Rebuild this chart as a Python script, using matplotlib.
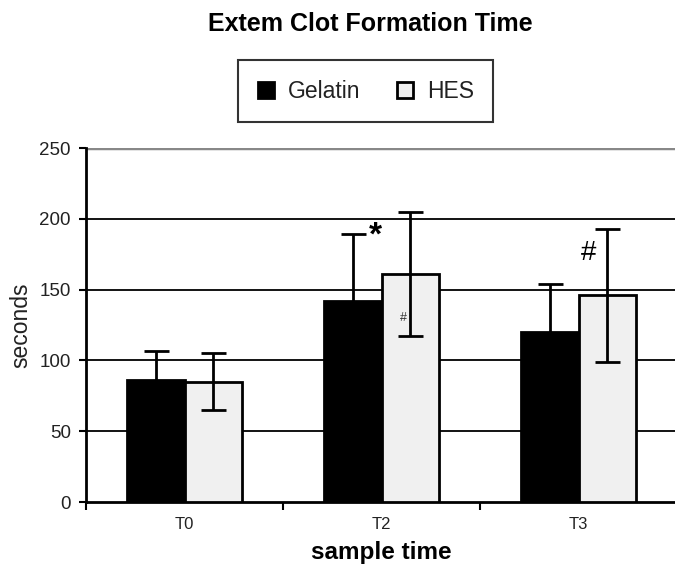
import numpy as np
import matplotlib
matplotlib.use("Agg")
import matplotlib.pyplot as plt

plt.rcParams['font.family'] = ['Liberation Sans', 'DejaVu Sans']

# data
times = ['T0', 'T2', 'T3']
gelatin = [86, 142, 120]
gelatin_err = [21, 47, 34]
hes = [85, 161, 146]
hes_err = [20, 44, 47]

fig = plt.figure(figsize=(6.75, 5.67), dpi=100)
ax = fig.add_axes([0.1274, 0.1146, 0.8756, 0.6243])

x = np.arange(len(times))
w = 0.29

ax.bar(x - w / 2, gelatin, w, color='black', edgecolor='black', linewidth=2,
       label='Gelatin', zorder=3)
ax.bar(x + w / 2, hes, w, color='#f0f0f0', edgecolor='black', linewidth=2,
       label='HES', zorder=3)
ax.errorbar(x - w / 2, gelatin, yerr=gelatin_err, fmt='none', ecolor='black',
            elinewidth=2, capsize=9, capthick=2, zorder=4)
ax.errorbar(x + w / 2, hes, yerr=hes_err, fmt='none', ecolor='black',
            elinewidth=2, capsize=9, capthick=2, zorder=4)

# significance marks
ax.text(0.97, 188, '*', fontsize=24, fontweight='bold', ha='center', va='center', zorder=5)
ax.text(1.11, 130, '#', fontsize=9, ha='center', va='center', color='#333333', zorder=5)
ax.text(2.05, 176, '#', fontsize=20, ha='center', va='center', zorder=5)

ax.set_xlim(-0.5, 2.5)
ax.set_ylim(0, 250)
ax.set_yticks(range(0, 251, 50))
for v in range(50, 201, 50):
    ax.axhline(v, color='black', linewidth=1.3, zorder=1)
ax.axhline(250, color='#888888', linewidth=2.5, zorder=1)

ax.set_xticks(x)
ax.set_xticklabels(times, fontsize=12)
ax.set_xticks([-0.5, 0.5, 1.5, 2.5], minor=True)
ax.tick_params(axis='x', which='major', length=0, pad=11, labelcolor='#222222')
ax.tick_params(axis='x', which='minor', length=6, width=1.5, direction='out')
ax.tick_params(axis='y', length=5, width=1.5, labelsize=13.5, pad=6, labelcolor='#222222')

for s in ['top', 'right']:
    ax.spines[s].set_visible(False)
ax.spines['left'].set_linewidth(2)
ax.spines['bottom'].set_linewidth(2)

ax.set_ylabel('seconds', fontsize=16.5, labelpad=5, color='#222222')
ax.set_xlabel('sample time', fontsize=17.5, fontweight='bold', labelpad=6)

fig.text(0.548, 0.958, 'Extem Clot Formation Time', ha='center', va='center',
         fontsize=18, fontweight='bold')

leg = fig.legend(loc='center', bbox_to_anchor=(0.542, 0.839), ncol=2, fontsize=16.5,
                 frameon=True, fancybox=False, edgecolor='black',
                 handlelength=0.7, handleheight=0.7, columnspacing=1.6,
                 borderpad=0.85, handletextpad=0.6, borderaxespad=0)
leg.get_frame().set_linewidth(1.5)
for t in leg.get_texts():
    t.set_color('#222222')

fig.savefig('out.png', dpi=100)
